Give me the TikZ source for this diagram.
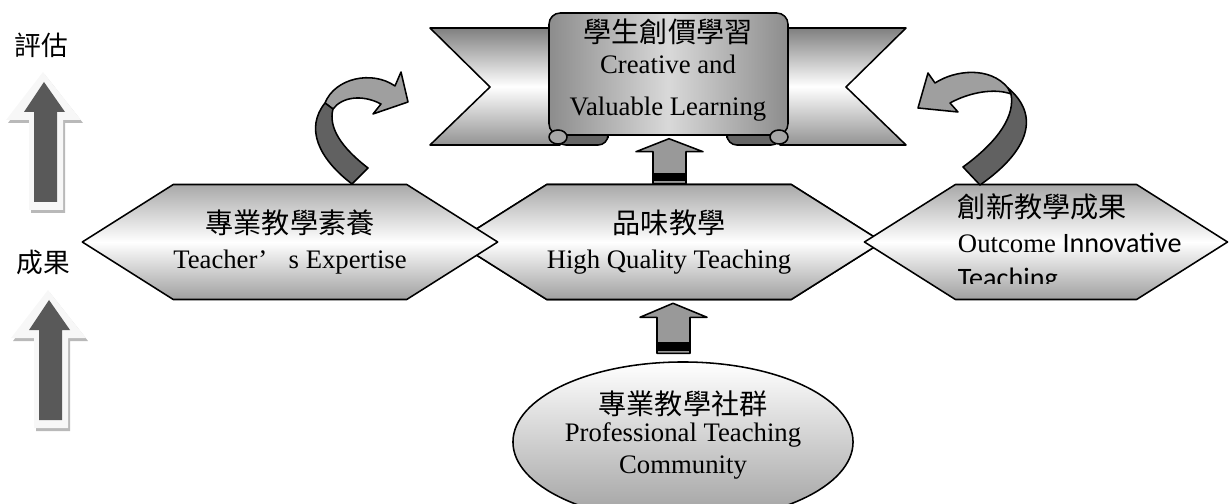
\documentclass[tikz,border=0pt]{standalone}
\usepackage{fontspec}
\setmainfont{Liberation Serif}
\newfontfamily\cjk{Noto Sans CJK TC}
\newfontfamily\carl{Carlito}
\usetikzlibrary{shapes.geometric,shapes.symbols,positioning,calc}

\newcommand{\zh}[1]{{\cjk\fontsize{20}{25}\selectfont #1}}

\begin{document}
\begin{tikzpicture}[x=0.025cm, y=-0.025cm,
	line join=round,
	hexbox/.style = {signal, signal to=west and east, signal pointer angle=64.6,
		draw, line width=1.1pt, inner sep=0pt, minimum width=9.2cm, minimum height=2.875cm,
		top color=gray!68, bottom color=gray!75, middle color=white,
		font=\fontsize{19}{25}\selectfont, align=center},
	tail/.style = {draw, line width=1.1pt, top color=gray, bottom color=gray!85, middle color=white},
	scroll/.style = {draw, line width=1.1pt, left color=gray!90, right color=gray!90, middle color=gray!30},
	roll/.style = {draw, line width=1.1pt, fill=black!60},
	blockarr/.style = {draw, line width=1.1pt, fill=gray!80},
	bendlight/.style = {draw, line width=1.1pt, fill=gray!75},
	benddark/.style = {draw, line width=1.1pt, fill=black!62},
	txt/.style = {font=\fontsize{19}{25}\selectfont, align=center}
	]
	\useasboundingbox (0,0) rectangle (1229,504);
	
	% left column
	\node[font=\cjk\fontsize{19}{22}\selectfont] (ev) at (41,45) {評估};
	\node[font=\cjk\fontsize{19}{22}\selectfont] (oc) at (43,262) {成果};
	\foreach \dx/\dy in {0/0,5/218} {
		\begin{scope}[shift={(\dx,\dy)}]
			\fill[gray!55, shift={(2,3)}] (43,72) -- (81,120) -- (63,120) -- (63,210) -- (29,210) -- (29,120) -- (6,120) -- cycle;
			\fill[gray!6] (43,72) -- (81,120) -- (63,120) -- (63,210) -- (29,210) -- (29,120) -- (6,120) -- cycle;
			\fill[black!65] (44,82) -- (65,112) -- (57,112) -- (57,202) -- (34,202) -- (34,112) -- (24,112) -- cycle;
		\end{scope}
	}
	
	% banner
	\filldraw[tail] (430,28) -- (560,28) -- (560,145) -- (430,145) -- (490,87) -- cycle;
	\filldraw[tail] (906,28) -- (780,28) -- (780,145) -- (906,145) -- (846,87) -- cycle;
	\filldraw[roll, rounded corners=7] (556,128) rectangle (608,145);
	\filldraw[roll, rounded corners=7] (727,128) rectangle (781,145);
	\filldraw[scroll, rounded corners=8] (549,135) -- (549,13) -- (788,13) -- (788,135) -- cycle;
	\filldraw[draw, line width=1.1pt, fill=gray!70] (558,137) ellipse [x radius=9, y radius=7];
	\filldraw[draw, line width=1.1pt, fill=gray!70] (779,137) ellipse [x radius=9, y radius=7];
	\node[txt, font=\fontsize{19}{30}\selectfont] (cvl) at (668,70) {\zh{學生創價學習}\\[-8pt]Creative and\\Valuable Learning};
	
	% hexagons
	\node[hexbox] (hq) at (669,242) {\zh{品味教學}\\High Quality Teaching};
	\draw[blockarr] (hq.north) ++(-16,0) -- ++(0,-32) -- ++(-17,0) -- ++(33,-13) -- ++(34,13) -- ++(-17,0) -- ++(0,32) -- cycle;
	\filldraw[fill=black] (hq.north) ++(-16,-3) rectangle ++(33,-7);
	\node[hexbox] (hq) at (669,242) {\zh{品味教學}\\High Quality Teaching};
	\node[hexbox] (te) at (290,242) {\zh{專業教學素養}\\Teacher’\hspace{0.8em}s Expertise};
	\node[hexbox, minimum width=9.075cm] (oi) at (1046,242) {};
	\begin{scope}
		\clip (860,150) rectangle (1229,284);
		\node[anchor=west, align=left, font=\fontsize{19}{25}\selectfont] (oitxt) at (953,243)
			{\zh{創新教學成果}\\Outcome {\carl\fontsize{20}{25}\selectfont Innovative}\\{\carl\fontsize{20}{25}\selectfont Teaching}};
	\end{scope}
	
	% community
	\node[draw, ellipse, line width=1.1pt, inner sep=0pt, minimum width=8.5cm, minimum height=4cm,
		top color=white, bottom color=gray!75] (ptc) at (683,442) {};
	\node[txt, font=\fontsize{19}{23}\selectfont, yshift=5pt] (ptctxt) at (ptc.center)
		{\zh{專業教學社群}\\[-4pt]Professional Teaching\\Community};
	\draw[blockarr] (hq.south) ++(4,3) -- ++(34,14) -- ++(-17,0) -- ++(0,36) -- ++(-33,0) -- ++(0,-36) -- ++(-17,0) -- cycle;
	\filldraw[fill=black] (hq.south) ++(-12,42) rectangle ++(33,8);
	
	% curved arrows
	\filldraw[bendlight] (325,103) .. controls (335,78) and (372,70) .. (395,86) -- (401,72) -- (408,102) -- (373,114) -- (381,104) .. controls (362,94) and (342,97) .. (333,109) -- cycle;
	\filldraw[benddark] (325,103) .. controls (305,128) and (318,158) .. (352,184) -- (368,168) .. controls (342,148) and (328,128) .. (333,109) -- cycle;
	\filldraw[bendlight] (1008,88) .. controls (990,66) and (955,70) .. (935,83) -- (928,73) -- (918,108) -- (958,112) -- (950,103) .. controls (970,92) and (995,88) .. (1011,94) -- cycle;
	\filldraw[benddark] (1008,88) .. controls (1040,115) and (1030,150) .. (980,185) -- (963,167) .. controls (1000,140) and (1015,115) .. (1011,94) -- cycle;
\end{tikzpicture}
\end{document}
